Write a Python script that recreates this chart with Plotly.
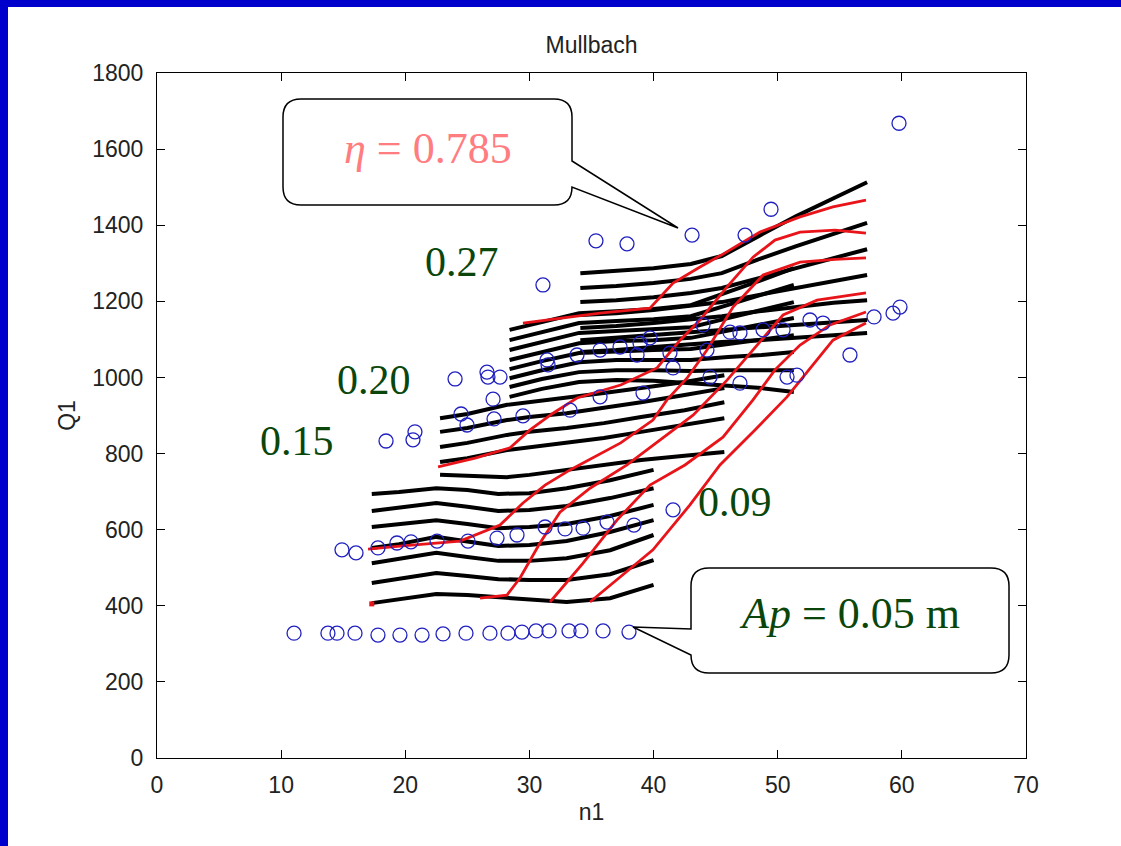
import plotly.graph_objects as go

# ---------------- data ----------------
# measured points (blue circles)
meas_low_n1 = [11.04, 13.77, 14.50, 15.95, 17.80, 19.57, 21.35, 23.04, 24.89, 26.82,
               28.27, 29.40, 30.53, 31.58, 33.19, 34.15, 35.93, 38.02]
meas_low_q1 = [328, 328, 328, 328, 323, 323, 323, 326, 328, 328,
               328, 331, 334, 334, 334, 334, 334, 331]

meas_mid_n1 = [14.90, 16.03, 17.80, 19.33, 20.46, 22.56, 25.05, 27.39, 29.00, 31.26,
               32.87, 34.32, 36.25, 38.42, 41.57]
meas_mid_q1 = [547, 539, 552, 565, 568, 570, 570, 578, 586, 607,
               602, 604, 620, 612, 652]

meas_high_n1 = [59.77, 49.46, 47.37, 43.10, 37.86, 35.36, 31.09, 59.85, 59.29, 57.76,
                53.65, 52.60, 55.82, 51.55, 50.75, 50.43, 48.82, 46.96, 46.16, 43.98,
                44.30, 46.96, 44.55, 41.32, 41.57, 39.71, 38.91, 37.30, 35.69, 33.83,
                31.42, 31.50, 38.67, 39.15, 35.69, 33.27, 29.48, 27.15, 24.97, 24.49,
                27.07, 27.63, 26.58, 26.66, 24.01, 18.45, 20.78, 20.62]
meas_high_q1 = [1668, 1442, 1374, 1374, 1351, 1359, 1243, 1185, 1169, 1159,
                1143, 1151, 1059, 1006, 1001, 1125, 1125, 1117, 1119, 1138,
                1072, 985, 1001, 1064, 1025, 1104, 1090, 1080, 1072, 1059,
                1046, 1033, 1059, 959, 949, 914, 899, 891, 875, 904,
                943, 1001, 1014, 1001, 996, 833, 857, 836]

# computed curves, opening Ap = 0.09
ap09_n1 = [17.3, 19.5, 22.5, 25.0, 27.5, 30.0, 33.0, 36.5, 40.0]
ap09_q1 = [
    [694, 699, 709, 704, 694, 696, 709, 730, 757],
    [649, 657, 670, 660, 649, 652, 662, 683, 709],
    [607, 615, 625, 615, 604, 607, 615, 636, 665],
    [552, 562, 581, 570, 557, 560, 570, 594, 625],
    [512, 523, 539, 528, 518, 518, 525, 546, 586],
    [460, 470, 486, 478, 470, 468, 468, 483, 520],
    [407, 418, 431, 428, 423, 418, 410, 420, 455],
]
# opening Ap = 0.15
ap15_n1 = [22.8, 25.0, 28.2, 30.0, 33.0, 36.0, 39.0, 42.5, 45.7]
ap15_q1 = [
    [893, 904, 928, 935, 946, 959, 972, 988, 1006],
    [857, 867, 888, 896, 906, 920, 935, 954, 972],
    [817, 828, 849, 857, 867, 880, 896, 914, 935],
    [778, 788, 809, 817, 828, 841, 857, 875, 893],
    [744, 741, 738, 744, 757, 770, 783, 794, 804],
]
# opening Ap = 0.20
ap20_n1 = [28.4, 31.0, 34.0, 37.0, 40.0, 43.0, 46.0, 48.7, 51.3]
ap20_q1 = [
    [1125, 1146, 1169, 1174, 1180, 1190, 1224, 1256, 1287],
    [1098, 1119, 1143, 1148, 1153, 1161, 1190, 1217, 1243],
    [1072, 1093, 1117, 1122, 1127, 1132, 1156, 1177, 1198],
    [1046, 1067, 1090, 1096, 1098, 1104, 1122, 1138, 1156],
    [1022, 1043, 1064, 1069, 1072, 1075, 1088, 1098, 1111],
    [998, 1019, 1040, 1046, 1046, 1046, 1054, 1059, 1067],
    [975, 996, 1014, 1019, 1019, 1017, 1019, 1019, 1019],
    [949, 970, 988, 993, 991, 985, 980, 972, 962],
]
# opening Ap = 0.27
ap27_n1 = [34.1, 37.0, 40.0, 43.0, 45.5, 48.5, 51.5, 54.5, 57.2]
ap27_q1 = [
    [1274, 1280, 1287, 1298, 1319, 1372, 1424, 1471, 1513],
    [1235, 1240, 1248, 1259, 1274, 1311, 1345, 1377, 1406],
    [1198, 1203, 1211, 1222, 1235, 1261, 1287, 1314, 1337],
    [1164, 1169, 1177, 1188, 1198, 1217, 1235, 1253, 1269],
    [1130, 1135, 1143, 1153, 1161, 1174, 1185, 1196, 1203],
    [1098, 1104, 1111, 1119, 1125, 1132, 1138, 1146, 1151],
    [1067, 1072, 1080, 1088, 1093, 1098, 1104, 1111, 1117],
]

# efficiency iso-curves (red)
eta_a_n1 = [29.48, 32.46, 35.69, 39.71, 41.57, 43.74, 45.59, 48.57, 51.8, 54.45, 57.11]
eta_a_q1 = [1143, 1156, 1169, 1182, 1248, 1290, 1324, 1382, 1422, 1448, 1466]
eta_b_n1 = [22.64, 25.62, 28.44, 30.05, 31.9, 33.83, 37.35, 40.28, 42.13, 43.74, 45.92,
            48.01, 49.78, 51.8, 54.62, 57.11]
eta_b_q1 = [765, 788, 815, 862, 906, 946, 980, 1025, 1098, 1151, 1238,
            1316, 1361, 1382, 1387, 1379]
eta_c_n1 = [17.0, 19.57, 24.41, 27.63, 29.48, 31.26, 33.27, 37.35, 39.95, 41.08, 42.69,
            44.3, 46.4, 48.82, 51.8, 54.62, 57.11]
eta_c_q1 = [549, 557, 570, 612, 670, 717, 757, 828, 888, 941, 998,
            1072, 1185, 1269, 1303, 1310, 1314]
eta_d_n1 = [26.02, 28.19, 29.24, 30.85, 32.46, 34.88, 37.86, 40.52, 43.18, 45.92, 48.01,
            50.43, 53.17, 57.11]
eta_d_q1 = [420, 428, 473, 565, 646, 709, 770, 836, 901, 993, 1072,
            1164, 1203, 1222]
eta_e_n1 = [31.66, 34.32, 37.05, 39.71, 42.53, 45.59, 48.01, 49.78, 51.8, 54.21, 57.11]
eta_e_q1 = [410, 512, 625, 717, 770, 843, 941, 1020, 1085, 1138, 1172]
eta_f_n1 = [34.88, 37.05, 39.95, 42.93, 45.35, 48.17, 50.75, 54.45, 57.11]
eta_f_q1 = [410, 468, 547, 665, 770, 862, 949, 1098, 1143]
eta_mark_n1 = [17.3]
eta_mark_q1 = [405]

x_ticks = [0, 10, 20, 30, 40, 50, 60, 70]
y_ticks = [0, 200, 400, 600, 800, 1000, 1200, 1400, 1600, 1800]

# ---------------- layout geometry ----------------
W, H = 1121, 846
ML, MR, MT, MB = 157, 95, 73, 88
PW, PH = W - ML - MR, H - MT - MB


def paper(xp, yp):
    """page pixel -> paper fraction (for decorations only)"""
    return (xp - ML) / PW, (H - MB - yp) / PH


def path_from(cmds):
    out = []
    for cmd, pts in cmds:
        coords = []
        for (a, b) in pts:
            u, v = paper(a, b)
            coords.append(f"{u:.5f},{v:.5f}")
        out.append(cmd + " " + " ".join(coords))
    return " ".join(out) + " Z"


fig = go.Figure()

for group_n1, group_q1 in [(ap09_n1, ap09_q1), (ap15_n1, ap15_q1),
                           (ap20_n1, ap20_q1), (ap27_n1, ap27_q1)]:
    for row in group_q1:
        fig.add_trace(go.Scatter(x=group_n1, y=row, mode="lines",
                                 line=dict(color="black", width=4),
                                 showlegend=False, hoverinfo="skip"))

RED = "#e8141a"
for xs, ys in [(eta_a_n1, eta_a_q1), (eta_b_n1, eta_b_q1), (eta_c_n1, eta_c_q1),
               (eta_d_n1, eta_d_q1), (eta_e_n1, eta_e_q1), (eta_f_n1, eta_f_q1)]:
    fig.add_trace(go.Scatter(x=xs, y=ys, mode="lines",
                             line=dict(color=RED, width=2.8),
                             showlegend=False, hoverinfo="skip"))
fig.add_trace(go.Scatter(x=eta_mark_n1, y=eta_mark_q1, mode="markers",
                         marker=dict(symbol="square", size=5, color=RED),
                         showlegend=False, hoverinfo="skip"))

BLUE = "#2020c0"
for xs, ys in [(meas_low_n1, meas_low_q1), (meas_mid_n1, meas_mid_q1),
               (meas_high_n1, meas_high_q1)]:
    fig.add_trace(go.Scatter(x=xs, y=ys, mode="markers",
                             marker=dict(symbol="circle-open", size=14,
                                         color=BLUE, line=dict(width=1.3)),
                             showlegend=False, hoverinfo="skip"))

shapes = []
# slide-blue frame on the left and top edges
SLIDE = "#0000cc"
xa, ya = paper(0, 0)
xb, _ = paper(8, 0)
xc, _ = paper(W, 0)
_, yb = paper(0, 7)
_, yc = paper(0, H)
shapes.append(dict(type="rect", xref="paper", yref="paper", x0=xa, x1=xb, y0=yc, y1=ya,
                   fillcolor=SLIDE, line=dict(width=0), layer="below"))
shapes.append(dict(type="rect", xref="paper", yref="paper", x0=xa, x1=xc, y0=yb, y1=ya,
                   fillcolor=SLIDE, line=dict(width=0), layer="below"))

r = 18
c1 = path_from([
    ("M", [(283 + r, 99)]), ("L", [(572 - r, 99)]), ("Q", [(572, 99), (572, 99 + r)]),
    ("L", [(572, 161)]), ("L", [(678, 228)]), ("L", [(572, 205 - r)]),
    ("Q", [(572, 205), (572 - r, 205)]), ("L", [(283 + r, 205)]),
    ("Q", [(283, 205), (283, 205 - r)]), ("L", [(283, 99 + r)]),
    ("Q", [(283, 99), (283 + r, 99)]),
])
shapes.append(dict(type="path", xref="paper", yref="paper", path=c1,
                   fillcolor="white", line=dict(color="black", width=1.5), layer="above"))
c2 = path_from([
    ("M", [(691 + r, 568)]), ("L", [(1009 - r, 568)]), ("Q", [(1009, 568), (1009, 568 + r)]),
    ("L", [(1009, 673 - r)]), ("Q", [(1009, 673), (1009 - r, 673)]),
    ("L", [(691 + r, 673)]), ("Q", [(691, 673), (691, 673 - r)]),
    ("L", [(633, 627)]), ("L", [(691, 629)]), ("L", [(691, 568 + r)]),
    ("Q", [(691, 568), (691 + r, 568)]),
])
shapes.append(dict(type="path", xref="paper", yref="paper", path=c2,
                   fillcolor="white", line=dict(color="black", width=1.5), layer="above"))

SERIF = "Liberation Serif, Times New Roman, serif"
GREEN = "#0a460a"
annotations = []


def label(text, xp, yp, color, size=44):
    u, v = paper(xp, yp)
    annotations.append(dict(text=text, xref="paper", yref="paper", x=u, y=v,
                            xanchor="center", yanchor="middle", showarrow=False,
                            font=dict(family=SERIF, size=size, color=color)))


label("<i>η</i> = 0.785", 428, 148, "#ff7c80")
label("<i>Ap</i> = 0.05 m", 849, 613, GREEN)
label("0.27", 462, 262, GREEN, 42)
label("0.20", 374, 380, GREEN, 42)
label("0.15", 297, 441, GREEN, 42)
label("0.09", 735, 502, GREEN, 42)

SANS = "Liberation Sans, Arial, sans-serif"
axis_common = dict(showline=True, linecolor="black", linewidth=1, mirror="allticks",
                   ticks="inside", ticklen=8, tickcolor="black", showgrid=False,
                   zeroline=False, tickfont=dict(family=SANS, size=23, color="#222"))

fig.update_layout(
    width=W, height=H,
    margin=dict(l=ML, r=MR, t=MT, b=MB, pad=0),
    paper_bgcolor="white", plot_bgcolor="white",
    title=dict(text="Mullbach", x=0.5, xref="paper", y=1 - 45 / H, yref="container",
               xanchor="center", yanchor="middle",
               font=dict(family=SANS, size=23, color="#222")),
    xaxis=dict(range=[0, 70], tickvals=x_ticks, ticklabelstandoff=6,
               title=dict(text="n1", standoff=7, font=dict(family=SANS, size=23, color="#222")),
               **axis_common),
    yaxis=dict(range=[0, 1800], tickvals=y_ticks, ticklabelstandoff=8,
               title=dict(text="Q1", standoff=10, font=dict(family=SANS, size=23, color="#222")),
               **axis_common),
    shapes=shapes, annotations=annotations, showlegend=False,
)

fig.write_html(
    "out.html",
    config={"displayModeBar": False},
    post_script=("document.body.style.margin='0';"
                 "document.body.style.overflow='hidden';"),
)
